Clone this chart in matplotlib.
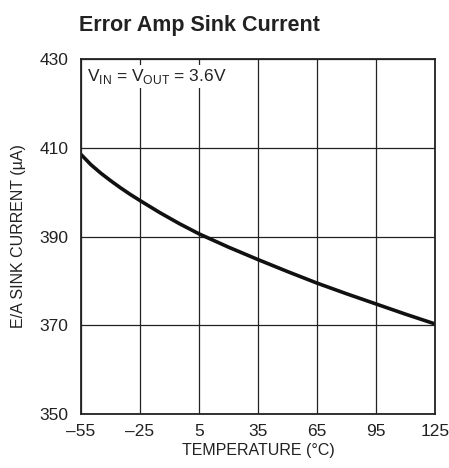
import matplotlib.pyplot as plt
import numpy as np

plt.rcParams['font.family'] = ['Liberation Sans Narrow', 'Liberation Sans', 'DejaVu Sans']

# curve
temp = [-55, -50, -45, -40, -35, -30, -25, -15, -5, 5, 20, 35, 50, 65, 80, 95, 110, 125]
sink = [408.5, 406.2, 404.3, 402.6, 401.0, 399.5, 398.1, 395.4, 392.9, 390.6, 387.6, 384.8, 382.1, 379.5, 377.1, 374.8, 372.5, 370.3]

xticks = [-55, -25, 5, 35, 65, 95, 125]
xlabels = ['\u201355', '\u201325', '5', '35', '65', '95', '125']
yticks = [350, 370, 390, 410, 430]

fig = plt.figure(figsize=(4.49, 4.68), dpi=100)
ax = fig.add_axes([0.1804, 0.1154, 0.7884, 0.7585])

ax.plot(temp, sink, color='#111111', linewidth=2.6, solid_capstyle='butt')
ax.set_xlim(-55, 125)
ax.set_ylim(350, 430)
ax.set_xticks(xticks, labels=xlabels)
ax.set_yticks(yticks)
ax.grid(True, color='#222222', linewidth=0.9)
ax.set_axisbelow(True)
ax.tick_params(length=0, labelsize=12.5, colors='#222222')
ax.tick_params(axis='y', pad=9)
ax.tick_params(axis='x', pad=7)
for s in ax.spines.values():
    s.set_linewidth(1.3)
    s.set_color('#222222')

ax.text(-52, 428.2, r'V$_{\mathregular{IN}}$ = V$_{\mathregular{OUT}}$ = 3.6V', fontsize=12.5,
        va='top', ha='left', color='#222222',
        bbox=dict(facecolor='white', edgecolor='none', pad=1.5))

ax.set_xlabel('TEMPERATURE (\u00b0C)', fontsize=11.5, color='#222222', labelpad=3)
ax.set_ylabel('E/A SINK CURRENT (\u00b5A)', fontsize=11.5, color='#222222', labelpad=10)
fig.text(0.176, 0.945, 'Error Amp Sink Current', fontsize=15.5, fontweight='bold',
         ha='left', va='center', color='#222222')

plt.savefig('out.png', dpi=100)
